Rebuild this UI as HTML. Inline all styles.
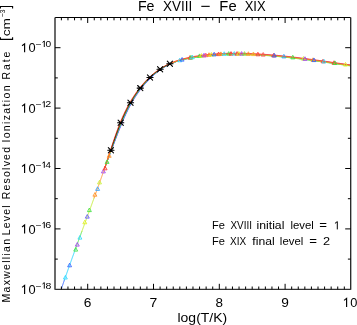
<!DOCTYPE html>
<html><head><meta charset="utf-8"><style>html,body{margin:0;padding:0;background:#fff;width:357px;height:325px;overflow:hidden}svg{display:block;will-change:transform}</style></head><body>
<svg width="357" height="325" viewBox="0 0 357 325">
<rect width="357" height="325" fill="#fff"/>
<defs><clipPath id="c"><rect x="55.5" y="18" width="294.7" height="270.8"/></clipPath></defs>
<g clip-path="url(#c)" fill="none" stroke-width="1" stroke-linejoin="round" stroke-linecap="butt">
<polyline points="60.50,291.39 60.57,291.18 60.64,290.98 60.71,290.77 60.78,290.57 60.85,290.36 60.92,290.16 60.99,289.96 61.06,289.75 61.13,289.55 61.19,289.35 61.26,289.14 61.33,288.94 61.40,288.74 61.47,288.53 61.54,288.33 61.61,288.13 61.68,287.92 61.75,287.72 61.82,287.52 61.89,287.32 61.96,287.11 62.03,286.91 62.10,286.71 62.17,286.51 62.24,286.30 62.31,286.10 62.38,285.90 62.45,285.70 62.52,285.49 62.58,285.29 62.65,285.09 62.72,284.89 62.79,284.69 62.86,284.49 62.93,284.28 63.00,284.08 63.07,283.88 63.14,283.68 63.21,283.48 63.28,283.28 63.35,283.08 63.42,282.88 63.49,282.68 63.56,282.47 63.63,282.27 63.70,282.07 63.77,281.87 63.84,281.67 63.91,281.47 63.97,281.27 64.04,281.07 64.11,280.87 64.18,280.67 64.25,280.47 64.32,280.27 64.39,280.07 64.46,279.87 64.53,279.67 64.60,279.47" stroke="#3060ff"/>
<polyline points="64.30,280.33 64.49,279.78 64.68,279.23 64.87,278.68 65.07,278.13 65.26,277.58 65.45,277.04 65.64,276.49 65.83,275.94 66.02,275.39 66.22,274.85 66.41,274.30 66.60,273.76 66.79,273.21 66.98,272.67 67.17,272.12 67.36,271.58 67.56,271.04 67.75,270.49 67.94,269.95 68.13,269.41 68.32,268.87 68.51,268.33 68.71,267.79 68.90,267.25 69.09,266.71 69.28,266.17 69.47,265.63 69.66,265.09 69.85,264.55 70.05,264.02 70.24,263.48 70.43,262.94 70.62,262.41 70.81,261.87 71.00,261.34 71.19,260.80 71.39,260.27 71.58,259.73 71.77,259.20 71.96,258.66 72.15,258.13 72.34,257.60 72.54,257.06 72.73,256.53 72.92,256.00 73.11,255.47 73.30,254.94 73.49,254.40 73.68,253.87 73.88,253.34 74.07,252.81 74.26,252.28 74.45,251.75 74.64,251.22 74.83,250.69 75.03,250.17 75.22,249.64 75.41,249.11 75.60,248.58" stroke="#30d8ff"/>
<polyline points="75.30,249.41 75.41,249.10 75.52,248.79 75.64,248.48 75.75,248.17 75.86,247.87 75.97,247.56 76.08,247.25 76.19,246.94 76.31,246.63 76.42,246.32 76.53,246.02 76.64,245.71 76.75,245.40 76.87,245.09 76.98,244.79 77.09,244.48 77.20,244.17 77.31,243.86 77.43,243.56 77.54,243.25 77.65,242.94 77.76,242.64 77.87,242.33 77.98,242.02 78.10,241.71 78.21,241.41 78.32,241.10 78.43,240.79 78.54,240.49 78.66,240.18 78.77,239.87 78.88,239.57 78.99,239.26 79.10,238.96 79.22,238.65 79.33,238.34 79.44,238.04 79.55,237.73 79.66,237.42 79.77,237.12 79.89,236.81 80.00,236.51 80.11,236.20 80.22,235.89 80.33,235.59 80.45,235.28 80.56,234.98 80.67,234.67 80.78,234.37 80.89,234.06 81.01,233.75 81.12,233.45 81.23,233.14 81.34,232.84 81.45,232.53 81.56,232.23 81.68,231.92 81.79,231.62 81.90,231.31" stroke="#50e850"/>
<polyline points="81.60,232.13 81.82,231.54 82.03,230.95 82.25,230.37 82.46,229.78 82.68,229.19 82.89,228.60 83.11,228.02 83.32,227.43 83.54,226.84 83.75,226.26 83.97,225.67 84.18,225.08 84.40,224.49 84.61,223.91 84.83,223.32 85.04,222.73 85.26,222.15 85.47,221.56 85.69,220.97 85.91,220.38 86.12,219.80 86.34,219.21 86.55,218.62 86.77,218.04 86.98,217.45 87.20,216.86 87.41,216.27 87.63,215.69 87.84,215.10 88.06,214.51 88.27,213.92 88.49,213.33 88.70,212.74 88.92,212.16 89.13,211.57 89.35,210.98 89.56,210.39 89.78,209.80 89.99,209.21 90.21,208.62 90.43,208.03 90.64,207.44 90.86,206.85 91.07,206.26 91.29,205.67 91.50,205.08 91.72,204.49 91.93,203.90 92.15,203.31 92.36,202.72 92.58,202.13 92.79,201.53 93.01,200.94 93.22,200.35 93.44,199.76 93.65,199.16 93.87,198.57 94.08,197.97 94.30,197.38" stroke="#c8f040"/>
<polyline points="94.00,198.21 94.19,197.69 94.38,197.17 94.56,196.65 94.75,196.13 94.94,195.61 95.13,195.09 95.32,194.57 95.51,194.05 95.69,193.53 95.88,193.00 96.07,192.48 96.26,191.96 96.45,191.44 96.63,190.92 96.82,190.39 97.01,189.87 97.20,189.34 97.39,188.82 97.57,188.30 97.76,187.77 97.95,187.25 98.14,186.72 98.33,186.20 98.52,185.67 98.70,185.14 98.89,184.62 99.08,184.09 99.27,183.56 99.46,183.03 99.64,182.50 99.83,181.97 100.02,181.45 100.21,180.92 100.40,180.39 100.58,179.85 100.77,179.32 100.96,178.79 101.15,178.26 101.34,177.73 101.53,177.20 101.71,176.66 101.90,176.13 102.09,175.59 102.28,175.06 102.47,174.52 102.65,173.99 102.84,173.45 103.03,172.92 103.22,172.38 103.41,171.84 103.59,171.30 103.78,170.76 103.97,170.23 104.16,169.69 104.35,169.15 104.54,168.60 104.72,168.06 104.91,167.52 105.10,166.98" stroke="#ff9a40"/>
<polyline points="104.50,168.71 105.12,166.92 105.74,165.13 106.43,163.33 107.12,161.52 107.81,159.71 108.50,157.89 109.19,156.07 109.88,154.25 110.57,152.43 111.26,150.61 111.96,148.79 112.65,146.98 113.34,145.17 114.01,143.38 114.67,141.60 115.34,139.82 116.01,138.07 116.67,136.33 117.34,134.61 118.00,132.90 118.66,131.22 119.33,129.57 119.99,127.94 120.65,126.33 121.31,124.76 121.93,123.21 122.55,121.70 123.17,120.22 123.79,118.77 124.41,117.36 125.03,115.97 125.65,114.62 126.27,113.29 126.89,111.99 127.51,110.72 128.13,109.48 128.75,108.26 129.37,107.07 129.99,105.91 130.61,104.77 131.23,103.66 131.85,102.57 132.47,101.50 133.09,100.46 133.71,99.44 134.33,98.43 134.95,97.45 135.57,96.50 136.19,95.56 136.82,94.63 137.44,93.73 138.06,92.85 138.68,91.98 139.30,91.13 139.92,90.30 140.54,89.48 141.16,88.67 141.78,87.88 142.40,87.11 143.02,86.34 143.64,85.59 144.26,84.86 144.88,84.14 145.50,83.43 146.12,82.73 146.74,82.05 147.36,81.37 147.98,80.72 148.60,80.07 149.22,79.44 149.84,78.81 150.46,78.20 151.08,77.61 151.70,77.02 152.32,76.44 152.94,75.88 153.56,75.33 154.18,74.79 154.78,74.26 155.38,73.74 155.98,73.23 156.59,72.73 157.19,72.25 157.79,71.77 158.40,71.30 159.00,70.84 159.61,70.40 160.21,69.96 160.82,69.53 161.42,69.11 162.03,68.70 162.64,68.30 163.24,67.91 163.85,67.53 164.46,67.16 165.06,66.79 165.67,66.44 166.28,66.09 166.89,65.76 167.50,65.44 168.11,65.12 168.72,64.82 169.33,64.52 169.94,64.23 170.55,63.94 171.16,63.66 171.77,63.39 172.38,63.13 172.99,62.87 173.60,62.62 174.21,62.38 174.82,62.14 175.44,61.91 176.05,61.69 176.66,61.47 177.27,61.25 177.89,61.05 178.50,60.84 179.11,60.65 179.73,60.46 180.34,60.27 180.95,60.09 181.56,59.91 182.17,59.74 182.78,59.57 183.39,59.41 184.01,59.25 184.62,59.10 185.23,58.95 185.84,58.80 186.45,58.66 187.07,58.52 187.68,58.38 188.29,58.25 188.91,58.12 189.52,57.99 190.13,57.87 190.75,57.75 191.36,57.63 191.97,57.51 192.59,57.40 193.20,57.29 193.82,57.18 194.43,57.07 195.04,56.97 195.66,56.87 196.27,56.77 196.89,56.67 197.50,56.58 198.12,56.49 198.73,56.40 199.35,56.31 199.96,56.22 200.58,56.14 201.20,56.05 201.81,55.96 202.43,55.88 203.04,55.80 203.66,55.71 204.28,55.64 204.89,55.56 205.51,55.48 206.12,55.41 206.74,55.34 207.36,55.27 207.97,55.20 208.59,55.14 209.21,55.08 209.83,55.02 210.44,54.96 211.06,54.90 211.68,54.84 212.30,54.79 212.91,54.74 213.53,54.69 214.15,54.64 214.77,54.59 215.38,54.55 216.00,54.50 216.62,54.46 217.24,54.42 217.86,54.38 218.48,54.35 219.09,54.31 219.71,54.28 220.33,54.25 220.95,54.22 221.57,54.19 222.19,54.16 222.81,54.13 223.42,54.11 224.04,54.08 224.66,54.06 225.28,54.04 225.90,54.02 226.52,54.00 227.14,53.98 227.76,53.97 228.38,53.95 229.00,53.94 229.62,53.93 230.24,53.92 230.86,53.91 231.48,53.90 232.10,53.89 232.72,53.89 233.34,53.88 233.96,53.88 234.58,53.87 235.20,53.87 235.82,53.87 236.44,53.87 237.06,53.87 237.68,53.87 238.30,53.88 238.92,53.88 239.54,53.89 240.16,53.89 240.78,53.90 241.40,53.91 242.02,53.92 242.64,53.93 243.27,53.94 243.89,53.95 244.51,53.96 245.13,53.98 245.75,53.99 246.37,54.01 246.99,54.03 247.61,54.05 248.23,54.07 248.86,54.09 249.48,54.11 250.10,54.13 250.72,54.15 251.34,54.18 251.96,54.20 252.59,54.23 253.21,54.25 253.83,54.28 254.45,54.31 255.07,54.34 255.69,54.37 256.32,54.40 256.94,54.43 257.56,54.46 258.18,54.50 258.80,54.53 259.43,54.57 260.05,54.60 260.67,54.64 261.29,54.68 261.92,54.72 262.54,54.76 263.16,54.80 263.78,54.84 264.41,54.88 265.03,54.92 265.65,54.97 266.27,55.01 266.90,55.06 267.52,55.10 268.14,55.15 268.76,55.19 269.39,55.24 270.01,55.29 270.63,55.34 271.25,55.39 271.88,55.44 272.50,55.49 273.12,55.54 273.75,55.60 274.37,55.65 274.99,55.71 275.62,55.76 276.24,55.82 276.86,55.87 277.49,55.93 278.11,55.99 278.73,56.04 279.36,56.10 279.98,56.16 280.60,56.22 281.23,56.28 281.85,56.34 282.47,56.41 283.10,56.47 283.72,56.53 284.34,56.60 284.97,56.66 285.59,56.72 286.21,56.79 286.84,56.86 287.46,56.92 288.09,56.99 288.71,57.06 289.33,57.12 289.96,57.19 290.58,57.26 291.21,57.33 291.83,57.40 292.45,57.47 293.08,57.54 293.70,57.61 294.33,57.69 294.95,57.76 295.57,57.83 296.20,57.91 296.82,57.98 297.45,58.05 298.07,58.13 298.69,58.20 299.32,58.28 299.94,58.36 300.57,58.43 301.19,58.51 301.82,58.59 302.44,58.66 303.06,58.74 303.69,58.82 304.31,58.90 304.94,58.98 305.56,59.06 306.19,59.14 306.81,59.22 307.44,59.30 308.06,59.38 308.68,59.46 309.31,59.54 309.93,59.62 310.56,59.71 311.18,59.79 311.81,59.87 312.43,59.95 313.06,60.04 313.68,60.12 314.31,60.21 314.93,60.29 315.56,60.37 316.18,60.46 316.80,60.54 317.43,60.63 318.05,60.71 318.67,60.80 319.30,60.89 319.92,60.97 320.54,61.06 321.17,61.14 321.79,61.23 322.41,61.32 323.04,61.41 323.66,61.49 324.28,61.58 324.91,61.67 325.53,61.76 326.15,61.84 326.78,61.93 327.40,62.02 328.02,62.11 328.65,62.20 329.27,62.28 329.89,62.37 330.52,62.46 331.14,62.55 331.76,62.64 332.39,62.73 333.01,62.82 333.63,62.91 334.26,63.00 334.88,63.09 335.50,63.17 336.13,63.26 336.75,63.35 337.37,63.44 338.00,63.53 338.62,63.62 339.24,63.71 339.87,63.80 340.49,63.89 341.11,63.98 341.74,64.07 342.36,64.16 342.99,64.25 343.61,64.34 344.23,64.43 344.86,64.52 345.48,64.61 346.10,64.70 346.73,64.78 347.35,64.87 347.97,64.96 348.60,65.05 349.22,65.14 349.84,65.23 350.47,65.32 351.09,65.41 351.71,65.50 352.34,65.58 352.96,65.67" stroke="#a040f0" stroke-width="0.9"/>
<polyline points="104.50,168.71 105.12,166.92 105.74,165.13 106.41,163.33 107.09,161.52 107.76,159.71 108.44,157.89 109.11,156.07 109.78,154.25 110.46,152.43 111.13,150.61 111.81,148.79 112.48,146.98 113.16,145.17 113.82,143.38 114.47,141.60 115.13,139.82 115.78,138.07 116.44,136.33 117.09,134.61 117.75,132.90 118.40,131.22 119.06,129.57 119.71,127.94 120.36,126.33 121.01,124.76 121.63,123.21 122.25,121.70 122.87,120.22 123.49,118.77 124.11,117.36 124.73,115.97 125.35,114.62 125.97,113.29 126.59,111.99 127.21,110.72 127.83,109.48 128.45,108.26 129.07,107.07 129.69,105.91 130.31,104.77 130.93,103.66 131.55,102.57 132.17,101.50 132.79,100.46 133.41,99.44 134.03,98.43 134.65,97.45 135.27,96.50 135.89,95.56 136.52,94.63 137.14,93.73 137.76,92.85 138.38,91.98 139.00,91.13 139.62,90.30 140.24,89.48 140.86,88.67 141.48,87.88 142.10,87.11 142.72,86.34 143.34,85.59 143.96,84.86 144.58,84.14 145.20,83.43 145.82,82.73 146.44,82.05 147.06,81.37 147.68,80.72 148.30,80.07 148.92,79.44 149.54,78.81 150.16,78.20 150.78,77.61 151.40,77.02 152.02,76.44 152.64,75.88 153.26,75.33 153.88,74.79 154.48,74.26 155.09,73.74 155.70,73.23 156.30,72.73 156.91,72.25 157.52,71.77 158.13,71.30 158.74,70.84 159.34,70.40 159.95,69.96 160.56,69.53 161.17,69.11 161.78,68.70 162.39,68.30 163.00,67.91 163.61,67.53 164.22,67.16 164.83,66.79 165.44,66.44 166.05,66.09 166.66,65.77 167.27,65.44 167.89,65.13 168.50,64.83 169.11,64.53 169.72,64.24 170.33,63.95 170.95,63.68 171.56,63.41 172.17,63.15 172.79,62.89 173.40,62.65 174.01,62.40 174.63,62.17 175.24,61.94 175.86,61.72 176.47,61.50 177.08,61.29 177.70,61.08 178.31,60.88 178.93,60.69 179.54,60.50 180.16,60.31 180.77,60.13 181.38,59.96 182.00,59.79 182.61,59.62 183.22,59.46 183.84,59.30 184.45,59.15 185.07,59.00 185.68,58.86 186.29,58.72 186.91,58.58 187.52,58.44 188.14,58.31 188.75,58.18 189.37,58.06 189.98,57.94 190.60,57.82 191.21,57.70 191.83,57.59 192.44,57.47 193.06,57.37 193.67,57.26 194.29,57.15 194.91,57.05 195.52,56.95 196.14,56.86 196.75,56.76 197.37,56.67 197.99,56.58 198.60,56.49 199.22,56.41 199.84,56.32 200.45,56.24 201.07,56.15 201.69,56.06 202.30,55.98 202.92,55.90 203.54,55.81 204.15,55.74 204.77,55.66 205.39,55.58 206.01,55.51 206.62,55.44 207.24,55.37 207.86,55.30 208.48,55.24 209.09,55.18 209.71,55.12 210.33,55.06 210.95,55.00 211.57,54.94 212.18,54.89 212.80,54.84 213.42,54.79 214.04,54.74 214.66,54.69 215.28,54.65 215.89,54.60 216.51,54.56 217.13,54.52 217.75,54.48 218.37,54.45 218.99,54.41 219.61,54.38 220.23,54.35 220.84,54.32 221.46,54.29 222.08,54.26 222.70,54.23 223.32,54.21 223.94,54.18 224.56,54.16 225.18,54.14 225.80,54.12 226.42,54.10 227.04,54.08 227.66,54.07 228.28,54.05 228.90,54.04 229.52,54.03 230.14,54.02 230.76,54.01 231.38,54.00 232.00,53.99 232.62,53.99 233.24,53.98 233.86,53.98 234.48,53.97 235.10,53.97 235.72,53.97 236.34,53.97 236.96,53.97 237.58,53.97 238.20,53.98 238.82,53.98 239.44,53.99 240.06,53.99 240.68,54.00 241.30,54.01 241.92,54.02 242.54,54.03 243.16,54.04 243.79,54.05 244.41,54.06 245.03,54.08 245.65,54.09 246.27,54.11 246.89,54.13 247.51,54.15 248.13,54.17 248.75,54.19 249.37,54.21 250.00,54.23 250.62,54.25 251.24,54.28 251.86,54.30 252.48,54.33 253.10,54.35 253.72,54.38 254.34,54.41 254.97,54.44 255.59,54.47 256.21,54.50 256.83,54.53 257.45,54.56 258.07,54.60 258.70,54.63 259.32,54.67 259.94,54.70 260.56,54.74 261.18,54.78 261.80,54.82 262.43,54.86 263.05,54.90 263.67,54.94 264.29,54.98 264.91,55.02 265.54,55.07 266.16,55.11 266.78,55.16 267.40,55.20 268.02,55.25 268.65,55.29 269.27,55.34 269.89,55.39 270.51,55.44 271.14,55.49 271.76,55.54 272.38,55.59 273.00,55.64 273.63,55.70 274.25,55.75 274.87,55.81 275.49,55.86 276.12,55.92 276.74,55.97 277.36,56.03 277.98,56.09 278.61,56.14 279.23,56.20 279.85,56.26 280.47,56.32 281.10,56.38 281.72,56.44 282.34,56.51 282.97,56.57 283.59,56.63 284.21,56.70 284.83,56.76 285.46,56.82 286.08,56.89 286.70,56.96 287.33,57.02 287.95,57.09 288.57,57.16 289.19,57.22 289.82,57.29 290.44,57.36 291.06,57.43 291.69,57.50 292.31,57.57 292.93,57.64 293.56,57.71 294.18,57.79 294.80,57.86 295.43,57.93 296.05,58.01 296.67,58.08 297.30,58.15 297.92,58.23 298.54,58.30 299.17,58.38 299.79,58.46 300.41,58.53 301.04,58.61 301.66,58.69 302.28,58.76 302.91,58.84 303.53,58.92 304.15,59.00 304.78,59.08 305.40,59.16 306.02,59.24 306.65,59.32 307.27,59.40 307.89,59.48 308.52,59.56 309.14,59.64 309.76,59.72 310.39,59.81 311.01,59.89 311.64,59.97 312.26,60.05 312.88,60.14 313.51,60.22 314.13,60.31 314.75,60.39 315.38,60.47 316.00,60.56 316.62,60.64 317.25,60.73 317.87,60.81 318.49,60.90 319.11,60.99 319.74,61.07 320.36,61.16 320.98,61.24 321.60,61.33 322.23,61.42 322.85,61.51 323.47,61.59 324.09,61.68 324.72,61.77 325.34,61.86 325.96,61.94 326.59,62.03 327.21,62.12 327.83,62.21 328.45,62.30 329.08,62.38 329.70,62.47 330.32,62.56 330.94,62.65 331.57,62.74 332.19,62.83 332.81,62.92 333.43,63.01 334.06,63.10 334.68,63.19 335.30,63.27 335.93,63.36 336.55,63.45 337.17,63.54 337.79,63.63 338.42,63.72 339.04,63.81 339.66,63.90 340.28,63.99 340.91,64.08 341.53,64.17 342.15,64.26 342.78,64.35 343.40,64.44 344.02,64.53 344.64,64.62 345.27,64.71 345.89,64.80 346.51,64.88 347.13,64.97 347.76,65.06 348.38,65.15 349.00,65.24 349.62,65.33 350.25,65.42 350.87,65.51 351.49,65.60 352.12,65.68 352.74,65.77" stroke="#3060ff" stroke-width="0.9"/>
<polyline points="104.50,168.71 105.12,166.92 105.74,165.13 106.40,163.33 107.05,161.52 107.71,159.71 108.37,157.89 109.03,156.07 109.69,154.25 110.35,152.43 111.01,150.61 111.66,148.79 112.32,146.98 112.98,145.17 113.63,143.38 114.27,141.60 114.92,139.82 115.56,138.07 116.21,136.33 116.85,134.61 117.50,132.90 118.14,131.22 118.78,129.57 119.43,127.94 120.07,126.33 120.71,124.76 121.33,123.21 121.95,121.70 122.57,120.22 123.19,118.77 123.81,117.36 124.43,115.97 125.05,114.62 125.67,113.29 126.29,111.99 126.91,110.72 127.53,109.48 128.15,108.26 128.77,107.07 129.39,105.91 130.01,104.77 130.63,103.66 131.25,102.57 131.87,101.50 132.49,100.46 133.11,99.44 133.73,98.43 134.35,97.45 134.97,96.50 135.59,95.56 136.22,94.63 136.84,93.73 137.46,92.85 138.08,91.98 138.70,91.13 139.32,90.30 139.94,89.48 140.56,88.67 141.18,87.88 141.80,87.11 142.42,86.34 143.04,85.59 143.66,84.86 144.28,84.14 144.90,83.43 145.52,82.73 146.14,82.05 146.76,81.37 147.38,80.72 148.00,80.07 148.62,79.44 149.24,78.81 149.86,78.20 150.48,77.61 151.10,77.02 151.72,76.44 152.34,75.88 152.96,75.33 153.58,74.79 154.19,74.26 154.80,73.74 155.41,73.23 156.02,72.73 156.63,72.25 157.24,71.77 157.86,71.30 158.47,70.84 159.08,70.40 159.69,69.96 160.30,69.53 160.92,69.11 161.53,68.70 162.14,68.30 162.76,67.91 163.37,67.53 163.98,67.16 164.60,66.79 165.21,66.44 165.82,66.10 166.44,65.77 167.05,65.45 167.67,65.14 168.28,64.84 168.89,64.55 169.51,64.26 170.12,63.98 170.74,63.71 171.35,63.44 171.97,63.19 172.58,62.93 173.20,62.69 173.82,62.45 174.43,62.22 175.05,61.99 175.66,61.77 176.28,61.56 176.90,61.35 177.51,61.15 178.13,60.95 178.74,60.76 179.36,60.58 179.98,60.39 180.59,60.22 181.21,60.05 181.82,59.88 182.44,59.72 183.05,59.56 183.67,59.41 184.29,59.26 184.90,59.11 185.52,58.97 186.13,58.83 186.75,58.70 187.37,58.57 187.98,58.44 188.60,58.32 189.22,58.20 189.83,58.08 190.45,57.96 191.07,57.85 191.68,57.74 192.30,57.63 192.92,57.52 193.53,57.42 194.15,57.32 194.77,57.22 195.38,57.12 196.00,57.03 196.62,56.94 197.24,56.85 197.85,56.76 198.47,56.68 199.09,56.60 199.71,56.52 200.32,56.44 200.94,56.35 201.56,56.26 202.18,56.18 202.80,56.10 203.41,56.01 204.03,55.94 204.65,55.86 205.27,55.78 205.89,55.71 206.50,55.64 207.12,55.57 207.74,55.50 208.36,55.44 208.98,55.38 209.60,55.32 210.22,55.26 210.83,55.20 211.45,55.14 212.07,55.09 212.69,55.04 213.31,54.99 213.93,54.94 214.55,54.89 215.17,54.85 215.79,54.80 216.41,54.76 217.02,54.72 217.64,54.68 218.26,54.65 218.88,54.61 219.50,54.58 220.12,54.55 220.74,54.52 221.36,54.49 221.98,54.46 222.60,54.43 223.22,54.41 223.84,54.38 224.46,54.36 225.08,54.34 225.70,54.32 226.32,54.30 226.94,54.28 227.56,54.27 228.18,54.25 228.80,54.24 229.42,54.23 230.04,54.22 230.66,54.21 231.28,54.20 231.90,54.19 232.52,54.19 233.14,54.18 233.76,54.18 234.38,54.17 235.00,54.17 235.62,54.17 236.24,54.17 236.86,54.17 237.48,54.17 238.10,54.18 238.72,54.18 239.34,54.19 239.96,54.19 240.58,54.20 241.20,54.21 241.82,54.22 242.44,54.23 243.06,54.24 243.68,54.25 244.30,54.26 244.93,54.28 245.55,54.29 246.17,54.31 246.79,54.33 247.41,54.35 248.03,54.37 248.65,54.39 249.27,54.41 249.89,54.43 250.51,54.45 251.13,54.48 251.75,54.50 252.38,54.53 253.00,54.55 253.62,54.58 254.24,54.61 254.86,54.64 255.48,54.67 256.10,54.70 256.72,54.73 257.34,54.76 257.97,54.80 258.59,54.83 259.21,54.87 259.83,54.90 260.45,54.94 261.07,54.98 261.69,55.02 262.32,55.06 262.94,55.10 263.56,55.14 264.18,55.18 264.80,55.22 265.42,55.27 266.04,55.31 266.67,55.36 267.29,55.40 267.91,55.45 268.53,55.49 269.15,55.54 269.77,55.59 270.40,55.64 271.02,55.69 271.64,55.74 272.26,55.79 272.88,55.84 273.50,55.90 274.13,55.95 274.75,56.01 275.37,56.06 275.99,56.12 276.61,56.17 277.24,56.23 277.86,56.29 278.48,56.34 279.10,56.40 279.72,56.46 280.35,56.52 280.97,56.58 281.59,56.64 282.21,56.71 282.83,56.77 283.46,56.83 284.08,56.90 284.70,56.96 285.32,57.02 285.94,57.09 286.57,57.16 287.19,57.22 287.81,57.29 288.43,57.36 289.05,57.42 289.68,57.49 290.30,57.56 290.92,57.63 291.54,57.70 292.17,57.77 292.79,57.84 293.41,57.91 294.03,57.99 294.66,58.06 295.28,58.13 295.90,58.21 296.52,58.28 297.14,58.35 297.77,58.43 298.39,58.50 299.01,58.58 299.63,58.66 300.26,58.73 300.88,58.81 301.50,58.89 302.12,58.96 302.75,59.04 303.37,59.12 303.99,59.20 304.61,59.28 305.24,59.36 305.86,59.44 306.48,59.52 307.10,59.60 307.73,59.68 308.35,59.76 308.97,59.84 309.59,59.92 310.22,60.01 310.84,60.09 311.46,60.17 312.09,60.25 312.71,60.34 313.33,60.42 313.95,60.51 314.58,60.59 315.20,60.67 315.82,60.76 316.44,60.84 317.07,60.93 317.69,61.01 318.31,61.10 318.93,61.19 319.55,61.27 320.17,61.36 320.80,61.44 321.42,61.53 322.04,61.62 322.66,61.71 323.28,61.79 323.91,61.88 324.53,61.97 325.15,62.06 325.77,62.14 326.39,62.23 327.02,62.32 327.64,62.41 328.26,62.50 328.88,62.58 329.50,62.67 330.13,62.76 330.75,62.85 331.37,62.94 331.99,63.03 332.61,63.12 333.24,63.21 333.86,63.30 334.48,63.39 335.10,63.47 335.72,63.56 336.35,63.65 336.97,63.74 337.59,63.83 338.21,63.92 338.83,64.01 339.46,64.10 340.08,64.19 340.70,64.28 341.32,64.37 341.94,64.46 342.57,64.55 343.19,64.64 343.81,64.73 344.43,64.82 345.05,64.91 345.68,65.00 346.30,65.08 346.92,65.17 347.54,65.26 348.16,65.35 348.78,65.44 349.41,65.53 350.03,65.62 350.65,65.71 351.27,65.80 351.89,65.88 352.52,65.97" stroke="#30d8ff" stroke-width="0.9"/>
<polyline points="104.50,168.71 105.12,166.92 105.74,165.13 106.38,163.33 107.02,161.52 107.66,159.71 108.30,157.89 108.94,156.07 109.58,154.25 110.21,152.43 110.85,150.61 111.49,148.79 112.13,146.98 112.77,145.17 113.41,143.38 114.04,141.60 114.67,139.82 115.30,138.07 115.94,136.33 116.57,134.61 117.20,132.90 117.83,131.22 118.46,129.57 119.10,127.94 119.73,126.33 120.36,124.76 120.98,123.21 121.60,121.70 122.22,120.22 122.84,118.77 123.46,117.36 124.08,115.97 124.70,114.62 125.32,113.29 125.94,111.99 126.56,110.72 127.18,109.48 127.80,108.26 128.42,107.07 129.04,105.91 129.66,104.77 130.28,103.66 130.90,102.57 131.52,101.50 132.14,100.46 132.76,99.44 133.38,98.43 134.00,97.45 134.62,96.50 135.24,95.56 135.87,94.63 136.49,93.73 137.11,92.85 137.73,91.98 138.35,91.13 138.97,90.30 139.59,89.48 140.21,88.67 140.83,87.88 141.45,87.11 142.07,86.34 142.69,85.59 143.31,84.86 143.93,84.14 144.55,83.43 145.17,82.73 145.79,82.05 146.41,81.37 147.03,80.72 147.65,80.07 148.27,79.44 148.89,78.81 149.51,78.20 150.13,77.61 150.75,77.02 151.37,76.44 151.99,75.88 152.61,75.33 153.23,74.79 153.85,74.26 154.46,73.74 155.08,73.23 155.69,72.73 156.31,72.25 156.93,71.77 157.54,71.30 158.16,70.84 158.77,70.40 159.39,69.96 160.01,69.53 160.62,69.11 161.24,68.70 161.86,68.30 162.47,67.91 163.09,67.53 163.71,67.16 164.32,66.79 164.94,66.44 165.56,66.10 166.17,65.78 166.79,65.46 167.41,65.16 168.03,64.86 168.64,64.57 169.26,64.28 169.88,64.01 170.50,63.74 171.11,63.48 171.73,63.22 172.35,62.97 172.97,62.73 173.58,62.50 174.20,62.27 174.82,62.05 175.44,61.83 176.06,61.62 176.68,61.42 177.29,61.22 177.91,61.03 178.53,60.84 179.15,60.66 179.77,60.48 180.38,60.31 181.00,60.14 181.62,59.97 182.24,59.82 182.86,59.66 183.47,59.51 184.09,59.37 184.71,59.22 185.33,59.09 185.95,58.95 186.56,58.82 187.18,58.69 187.80,58.57 188.42,58.45 189.04,58.33 189.66,58.22 190.27,58.10 190.89,57.99 191.51,57.89 192.13,57.78 192.75,57.68 193.37,57.58 193.99,57.48 194.61,57.39 195.22,57.30 195.84,57.21 196.46,57.12 197.08,57.03 197.70,56.95 198.32,56.87 198.94,56.79 199.56,56.72 200.18,56.64 200.79,56.55 201.41,56.46 202.03,56.38 202.65,56.30 203.27,56.21 203.89,56.14 204.51,56.06 205.13,55.98 205.75,55.91 206.37,55.84 206.99,55.77 207.61,55.70 208.23,55.64 208.84,55.58 209.46,55.52 210.08,55.46 210.70,55.40 211.32,55.34 211.94,55.29 212.56,55.24 213.18,55.19 213.80,55.14 214.42,55.09 215.04,55.05 215.66,55.00 216.28,54.96 216.90,54.92 217.52,54.88 218.14,54.85 218.76,54.81 219.38,54.78 220.00,54.75 220.62,54.72 221.24,54.69 221.86,54.66 222.48,54.63 223.10,54.61 223.72,54.58 224.34,54.56 224.96,54.54 225.58,54.52 226.20,54.50 226.82,54.48 227.44,54.47 228.06,54.45 228.68,54.44 229.30,54.43 229.92,54.42 230.54,54.41 231.16,54.40 231.78,54.39 232.40,54.39 233.02,54.38 233.64,54.38 234.26,54.37 234.88,54.37 235.50,54.37 236.12,54.37 236.74,54.37 237.36,54.37 237.98,54.38 238.60,54.38 239.22,54.39 239.84,54.39 240.46,54.40 241.08,54.41 241.70,54.42 242.32,54.43 242.95,54.44 243.57,54.45 244.19,54.46 244.81,54.48 245.43,54.49 246.05,54.51 246.67,54.53 247.29,54.55 247.91,54.57 248.53,54.59 249.15,54.61 249.77,54.63 250.39,54.65 251.01,54.68 251.63,54.70 252.25,54.73 252.87,54.75 253.50,54.78 254.12,54.81 254.74,54.84 255.36,54.87 255.98,54.90 256.60,54.93 257.22,54.96 257.84,55.00 258.46,55.03 259.08,55.07 259.70,55.10 260.32,55.14 260.94,55.18 261.57,55.22 262.19,55.26 262.81,55.30 263.43,55.34 264.05,55.38 264.67,55.42 265.29,55.47 265.91,55.51 266.53,55.56 267.15,55.60 267.77,55.65 268.40,55.69 269.02,55.74 269.64,55.79 270.26,55.84 270.88,55.89 271.50,55.94 272.12,55.99 272.74,56.04 273.36,56.10 273.98,56.15 274.61,56.21 275.23,56.26 275.85,56.32 276.47,56.37 277.09,56.43 277.71,56.49 278.33,56.54 278.95,56.60 279.57,56.66 280.20,56.72 280.82,56.78 281.44,56.84 282.06,56.91 282.68,56.97 283.30,57.03 283.92,57.10 284.54,57.16 285.16,57.22 285.79,57.29 286.41,57.36 287.03,57.42 287.65,57.49 288.27,57.56 288.89,57.62 289.51,57.69 290.13,57.76 290.76,57.83 291.38,57.90 292.00,57.97 292.62,58.04 293.24,58.11 293.86,58.19 294.48,58.26 295.10,58.33 295.73,58.41 296.35,58.48 296.97,58.55 297.59,58.63 298.21,58.70 298.83,58.78 299.45,58.86 300.08,58.93 300.70,59.01 301.32,59.09 301.94,59.16 302.56,59.24 303.18,59.32 303.80,59.40 304.43,59.48 305.05,59.56 305.67,59.64 306.29,59.72 306.91,59.80 307.53,59.88 308.15,59.96 308.78,60.04 309.40,60.12 310.02,60.21 310.64,60.29 311.26,60.37 311.88,60.45 312.50,60.54 313.13,60.62 313.75,60.71 314.37,60.79 314.99,60.87 315.61,60.96 316.23,61.04 316.85,61.13 317.48,61.21 318.10,61.30 318.72,61.39 319.34,61.47 319.96,61.56 320.58,61.64 321.20,61.73 321.82,61.82 322.44,61.91 323.07,61.99 323.69,62.08 324.31,62.17 324.93,62.26 325.55,62.34 326.17,62.43 326.79,62.52 327.41,62.61 328.03,62.70 328.66,62.78 329.28,62.87 329.90,62.96 330.52,63.05 331.14,63.14 331.76,63.23 332.38,63.32 333.00,63.41 333.62,63.50 334.25,63.59 334.87,63.67 335.49,63.76 336.11,63.85 336.73,63.94 337.35,64.03 337.97,64.12 338.59,64.21 339.21,64.30 339.84,64.39 340.46,64.48 341.08,64.57 341.70,64.66 342.32,64.75 342.94,64.84 343.56,64.93 344.18,65.02 344.80,65.11 345.43,65.20 346.05,65.28 346.67,65.37 347.29,65.46 347.91,65.55 348.53,65.64 349.15,65.73 349.77,65.82 350.39,65.91 351.02,66.00 351.64,66.08 352.26,66.17" stroke="#40e040" stroke-width="0.9"/>
<polyline points="104.50,168.71 105.12,166.92 105.74,165.13 106.36,163.33 106.98,161.52 107.60,159.71 108.22,157.89 108.84,156.07 109.46,154.25 110.08,152.43 110.70,150.61 111.32,148.79 111.94,146.98 112.56,145.17 113.18,143.38 113.80,141.60 114.42,139.82 115.05,138.07 115.67,136.33 116.29,134.61 116.91,132.90 117.53,131.22 118.15,129.57 118.77,127.94 119.39,126.33 120.01,124.76 120.63,123.21 121.25,121.70 121.87,120.22 122.49,118.77 123.11,117.36 123.73,115.97 124.35,114.62 124.97,113.29 125.59,111.99 126.21,110.72 126.83,109.48 127.45,108.26 128.07,107.07 128.69,105.91 129.31,104.77 129.93,103.66 130.55,102.57 131.17,101.50 131.79,100.46 132.41,99.44 133.03,98.43 133.65,97.45 134.27,96.50 134.89,95.56 135.52,94.63 136.14,93.73 136.76,92.85 137.38,91.98 138.00,91.13 138.62,90.30 139.24,89.48 139.86,88.67 140.48,87.88 141.10,87.11 141.72,86.34 142.34,85.59 142.96,84.86 143.58,84.14 144.20,83.43 144.82,82.73 145.44,82.05 146.06,81.37 146.68,80.72 147.30,80.07 147.92,79.44 148.54,78.81 149.16,78.20 149.78,77.61 150.40,77.02 151.02,76.44 151.64,75.88 152.26,75.33 152.88,74.79 153.50,74.26 154.12,73.74 154.74,73.23 155.36,72.73 155.98,72.25 156.61,71.77 157.23,71.30 157.85,70.84 158.47,70.40 159.09,69.96 159.71,69.53 160.33,69.11 160.95,68.70 161.57,68.30 162.19,67.91 162.81,67.53 163.43,67.16 164.05,66.79 164.67,66.44 165.29,66.10 165.91,65.77 166.53,65.45 167.15,65.14 167.77,64.83 168.39,64.54 169.01,64.25 169.63,63.97 170.25,63.69 170.87,63.43 171.49,63.17 172.11,62.91 172.73,62.67 173.35,62.43 173.97,62.19 174.59,61.97 175.21,61.74 175.83,61.53 176.45,61.32 177.08,61.12 177.70,60.92 178.32,60.72 178.94,60.54 179.56,60.35 180.18,60.18 180.80,60.00 181.42,59.83 182.04,59.67 182.66,59.51 183.28,59.36 183.90,59.20 184.52,59.06 185.14,58.91 185.76,58.77 186.38,58.64 187.00,58.51 187.62,58.38 188.24,58.25 188.86,58.13 189.48,58.01 190.10,57.89 190.72,57.77 191.34,57.66 191.96,57.55 192.58,57.44 193.20,57.34 193.82,57.24 194.44,57.14 195.06,57.04 195.68,56.94 196.30,56.85 196.92,56.76 197.55,56.67 198.17,56.59 198.79,56.50 199.41,56.42 200.03,56.34 200.65,56.25 201.27,56.16 201.89,56.08 202.51,56.00 203.13,55.91 203.75,55.84 204.37,55.76 204.99,55.68 205.61,55.61 206.23,55.54 206.85,55.47 207.47,55.40 208.09,55.34 208.71,55.28 209.33,55.22 209.95,55.16 210.57,55.10 211.19,55.04 211.81,54.99 212.43,54.94 213.05,54.89 213.67,54.84 214.29,54.79 214.91,54.75 215.53,54.70 216.15,54.66 216.77,54.62 217.39,54.58 218.02,54.55 218.64,54.51 219.26,54.48 219.88,54.45 220.50,54.42 221.12,54.39 221.74,54.36 222.36,54.33 222.98,54.31 223.60,54.28 224.22,54.26 224.84,54.24 225.46,54.22 226.08,54.20 226.70,54.18 227.32,54.17 227.94,54.15 228.56,54.14 229.18,54.13 229.80,54.12 230.42,54.11 231.04,54.10 231.66,54.09 232.28,54.09 232.90,54.08 233.52,54.08 234.14,54.07 234.76,54.07 235.38,54.07 236.00,54.07 236.62,54.07 237.24,54.07 237.86,54.08 238.48,54.08 239.11,54.09 239.73,54.09 240.35,54.10 240.97,54.11 241.59,54.12 242.21,54.13 242.83,54.14 243.45,54.15 244.07,54.16 244.69,54.18 245.31,54.19 245.93,54.21 246.55,54.23 247.17,54.25 247.79,54.27 248.41,54.29 249.03,54.31 249.65,54.33 250.27,54.35 250.89,54.38 251.51,54.40 252.13,54.43 252.75,54.45 253.37,54.48 253.99,54.51 254.61,54.54 255.23,54.57 255.85,54.60 256.47,54.63 257.09,54.66 257.71,54.70 258.33,54.73 258.95,54.77 259.58,54.80 260.20,54.84 260.82,54.88 261.44,54.92 262.06,54.96 262.68,55.00 263.30,55.04 263.92,55.08 264.54,55.12 265.16,55.17 265.78,55.21 266.40,55.26 267.02,55.30 267.64,55.35 268.26,55.39 268.88,55.44 269.50,55.49 270.12,55.54 270.74,55.59 271.36,55.64 271.98,55.69 272.60,55.74 273.22,55.80 273.84,55.85 274.46,55.91 275.08,55.96 275.70,56.02 276.32,56.07 276.94,56.13 277.56,56.19 278.18,56.24 278.80,56.30 279.42,56.36 280.05,56.42 280.67,56.48 281.29,56.54 281.91,56.61 282.53,56.67 283.15,56.73 283.77,56.80 284.39,56.86 285.01,56.92 285.63,56.99 286.25,57.06 286.87,57.12 287.49,57.19 288.11,57.26 288.73,57.32 289.35,57.39 289.97,57.46 290.59,57.53 291.21,57.60 291.83,57.67 292.45,57.74 293.07,57.81 293.69,57.89 294.31,57.96 294.93,58.03 295.55,58.11 296.17,58.18 296.79,58.25 297.41,58.33 298.03,58.40 298.65,58.48 299.27,58.56 299.89,58.63 300.52,58.71 301.14,58.79 301.76,58.86 302.38,58.94 303.00,59.02 303.62,59.10 304.24,59.18 304.86,59.26 305.48,59.34 306.10,59.42 306.72,59.50 307.34,59.58 307.96,59.66 308.58,59.74 309.20,59.82 309.82,59.91 310.44,59.99 311.06,60.07 311.68,60.15 312.30,60.24 312.92,60.32 313.54,60.41 314.16,60.49 314.78,60.57 315.40,60.66 316.02,60.74 316.64,60.83 317.26,60.91 317.88,61.00 318.50,61.09 319.12,61.17 319.74,61.26 320.36,61.34 320.98,61.43 321.61,61.52 322.23,61.61 322.85,61.69 323.47,61.78 324.09,61.87 324.71,61.96 325.33,62.04 325.95,62.13 326.57,62.22 327.19,62.31 327.81,62.40 328.43,62.48 329.05,62.57 329.67,62.66 330.29,62.75 330.91,62.84 331.53,62.93 332.15,63.02 332.77,63.11 333.39,63.20 334.01,63.29 334.63,63.37 335.25,63.46 335.87,63.55 336.49,63.64 337.11,63.73 337.73,63.82 338.35,63.91 338.97,64.00 339.59,64.09 340.21,64.18 340.83,64.27 341.45,64.36 342.08,64.45 342.70,64.54 343.32,64.63 343.94,64.72 344.56,64.81 345.18,64.90 345.80,64.98 346.42,65.07 347.04,65.16 347.66,65.25 348.28,65.34 348.90,65.43 349.52,65.52 350.14,65.61 350.76,65.70 351.38,65.78 352.00,65.87" stroke="#e8f020" stroke-width="0.9"/>
<polyline points="104.50,168.71 105.12,166.92 105.74,165.13 106.34,163.33 106.94,161.52 107.55,159.71 108.15,157.89 108.75,156.07 109.35,154.25 109.95,152.43 110.55,150.61 111.15,148.79 111.75,146.98 112.36,145.17 112.96,143.38 113.57,141.60 114.18,139.82 114.79,138.07 115.39,136.33 116.00,134.61 116.61,132.90 117.22,131.22 117.83,129.57 118.44,127.94 119.05,126.33 119.66,124.76 120.28,123.21 120.90,121.70 121.52,120.22 122.14,118.77 122.76,117.36 123.38,115.97 124.00,114.62 124.62,113.29 125.24,111.99 125.86,110.72 126.48,109.48 127.10,108.26 127.72,107.07 128.34,105.91 128.96,104.77 129.58,103.66 130.20,102.57 130.82,101.50 131.44,100.46 132.06,99.44 132.68,98.43 133.30,97.45 133.92,96.50 134.54,95.56 135.17,94.63 135.79,93.73 136.41,92.85 137.03,91.98 137.65,91.13 138.27,90.30 138.89,89.48 139.51,88.67 140.13,87.88 140.75,87.11 141.37,86.34 141.99,85.59 142.61,84.86 143.23,84.14 143.85,83.43 144.47,82.73 145.09,82.05 145.71,81.37 146.33,80.72 146.95,80.07 147.57,79.44 148.19,78.81 148.81,78.20 149.43,77.61 150.05,77.02 150.67,76.44 151.29,75.88 151.91,75.33 152.54,74.79 153.16,74.26 153.79,73.74 154.41,73.23 155.04,72.73 155.66,72.25 156.29,71.77 156.91,71.30 157.53,70.84 158.16,70.40 158.78,69.96 159.41,69.53 160.03,69.11 160.66,68.70 161.28,68.30 161.90,67.91 162.53,67.53 163.15,67.16 163.78,66.79 164.40,66.44 165.02,66.09 165.65,65.76 166.27,65.43 166.89,65.12 167.52,64.81 168.14,64.50 168.76,64.21 169.39,63.92 170.01,63.64 170.63,63.37 171.25,63.10 171.88,62.84 172.50,62.59 173.12,62.34 173.74,62.10 174.37,61.87 174.99,61.64 175.61,61.42 176.23,61.20 176.86,60.99 177.48,60.79 178.10,60.59 178.72,60.40 179.35,60.21 179.97,60.02 180.59,59.84 181.21,59.67 181.84,59.50 182.46,59.33 183.08,59.17 183.70,59.02 184.33,58.86 184.95,58.71 185.57,58.57 186.19,58.42 186.82,58.29 187.44,58.15 188.06,58.02 188.68,57.89 189.31,57.76 189.93,57.64 190.55,57.52 191.17,57.40 191.79,57.28 192.42,57.17 193.04,57.06 193.66,56.95 194.28,56.84 194.90,56.74 195.53,56.64 196.15,56.54 196.77,56.44 197.39,56.35 198.01,56.25 198.63,56.16 199.26,56.08 199.88,55.99 200.50,55.90 201.12,55.81 201.74,55.73 202.36,55.65 202.98,55.56 203.61,55.49 204.23,55.41 204.85,55.33 205.47,55.26 206.09,55.19 206.71,55.12 207.33,55.05 207.96,54.99 208.58,54.93 209.20,54.87 209.82,54.81 210.44,54.75 211.06,54.69 211.68,54.64 212.30,54.59 212.92,54.54 213.54,54.49 214.17,54.44 214.79,54.40 215.41,54.35 216.03,54.31 216.65,54.27 217.27,54.23 217.89,54.20 218.51,54.16 219.13,54.13 219.75,54.10 220.37,54.07 220.99,54.04 221.62,54.01 222.24,53.98 222.86,53.96 223.48,53.93 224.10,53.91 224.72,53.89 225.34,53.87 225.96,53.85 226.58,53.83 227.20,53.82 227.82,53.80 228.44,53.79 229.06,53.78 229.68,53.77 230.30,53.76 230.92,53.75 231.54,53.74 232.16,53.74 232.78,53.73 233.41,53.73 234.03,53.72 234.65,53.72 235.27,53.72 235.89,53.72 236.51,53.72 237.13,53.72 237.75,53.73 238.37,53.73 238.99,53.74 239.61,53.74 240.23,53.75 240.85,53.76 241.47,53.77 242.09,53.78 242.71,53.79 243.33,53.80 243.95,53.81 244.57,53.83 245.19,53.84 245.81,53.86 246.43,53.88 247.05,53.90 247.67,53.92 248.29,53.94 248.91,53.96 249.53,53.98 250.15,54.00 250.77,54.03 251.39,54.05 252.01,54.08 252.63,54.10 253.25,54.13 253.87,54.16 254.49,54.19 255.11,54.22 255.73,54.25 256.35,54.28 256.97,54.31 257.59,54.35 258.21,54.38 258.83,54.42 259.45,54.45 260.07,54.49 260.69,54.53 261.31,54.57 261.93,54.61 262.55,54.65 263.17,54.69 263.79,54.73 264.41,54.77 265.03,54.82 265.65,54.86 266.26,54.91 266.88,54.95 267.50,55.00 268.12,55.04 268.74,55.09 269.36,55.14 269.98,55.19 270.60,55.24 271.22,55.29 271.84,55.34 272.46,55.39 273.08,55.45 273.70,55.50 274.32,55.56 274.94,55.61 275.56,55.67 276.18,55.72 276.80,55.78 277.42,55.84 278.04,55.89 278.66,55.95 279.28,56.01 279.89,56.07 280.51,56.13 281.13,56.19 281.75,56.26 282.37,56.32 282.99,56.38 283.61,56.45 284.23,56.51 284.85,56.57 285.47,56.64 286.09,56.71 286.71,56.77 287.33,56.84 287.95,56.91 288.57,56.97 289.19,57.04 289.81,57.11 290.42,57.18 291.04,57.25 291.66,57.32 292.28,57.39 292.90,57.46 293.52,57.54 294.14,57.61 294.76,57.68 295.38,57.76 296.00,57.83 296.62,57.90 297.24,57.98 297.86,58.05 298.48,58.13 299.09,58.21 299.71,58.28 300.33,58.36 300.95,58.44 301.57,58.51 302.19,58.59 302.81,58.67 303.43,58.75 304.05,58.83 304.67,58.91 305.29,58.99 305.91,59.07 306.52,59.15 307.14,59.23 307.76,59.31 308.38,59.39 309.00,59.47 309.62,59.56 310.24,59.64 310.86,59.72 311.48,59.80 312.10,59.89 312.72,59.97 313.34,60.06 313.95,60.14 314.57,60.22 315.19,60.31 315.81,60.39 316.43,60.48 317.05,60.56 317.67,60.65 318.29,60.74 318.91,60.82 319.53,60.91 320.15,60.99 320.77,61.08 321.39,61.17 322.01,61.26 322.63,61.34 323.25,61.43 323.87,61.52 324.49,61.61 325.10,61.69 325.72,61.78 326.34,61.87 326.96,61.96 327.58,62.05 328.20,62.13 328.82,62.22 329.44,62.31 330.06,62.40 330.68,62.49 331.30,62.58 331.92,62.67 332.54,62.76 333.16,62.85 333.78,62.94 334.40,63.02 335.02,63.11 335.64,63.20 336.26,63.29 336.87,63.38 337.49,63.47 338.11,63.56 338.73,63.65 339.35,63.74 339.97,63.83 340.59,63.92 341.21,64.01 341.83,64.10 342.45,64.19 343.07,64.28 343.69,64.37 344.31,64.46 344.93,64.55 345.55,64.63 346.17,64.72 346.79,64.81 347.41,64.90 348.02,64.99 348.64,65.08 349.26,65.17 349.88,65.26 350.50,65.35 351.12,65.43 351.74,65.52" stroke="#ff9020" stroke-width="0.9"/>
<polyline points="104.50,168.71 105.12,166.92 105.74,165.13 106.33,163.33 106.91,161.52 107.49,159.71 108.07,157.89 108.65,156.07 109.24,154.25 109.82,152.43 110.40,150.61 110.98,148.79 111.57,146.98 112.15,145.17 112.74,143.38 113.34,141.60 113.93,139.82 114.53,138.07 115.12,136.33 115.72,134.61 116.32,132.90 116.91,131.22 117.51,129.57 118.11,127.94 118.71,126.33 119.31,124.76 119.93,123.21 120.55,121.70 121.17,120.22 121.79,118.77 122.41,117.36 123.03,115.97 123.65,114.62 124.27,113.29 124.89,111.99 125.51,110.72 126.13,109.48 126.75,108.26 127.37,107.07 127.99,105.91 128.61,104.77 129.23,103.66 129.85,102.57 130.47,101.50 131.09,100.46 131.71,99.44 132.33,98.43 132.95,97.45 133.57,96.50 134.19,95.56 134.82,94.63 135.44,93.73 136.06,92.85 136.68,91.98 137.30,91.13 137.92,90.30 138.54,89.48 139.16,88.67 139.78,87.88 140.40,87.11 141.02,86.34 141.64,85.59 142.26,84.86 142.88,84.14 143.50,83.43 144.12,82.73 144.74,82.05 145.36,81.37 145.98,80.72 146.60,80.07 147.22,79.44 147.84,78.81 148.46,78.20 149.08,77.61 149.70,77.02 150.32,76.44 150.94,75.88 151.56,75.33 152.19,74.79 152.82,74.26 153.45,73.74 154.08,73.23 154.71,72.73 155.34,72.25 155.97,71.77 156.59,71.30 157.22,70.84 157.85,70.40 158.48,69.96 159.11,69.53 159.74,69.11 160.36,68.70 160.99,68.30 161.62,67.91 162.25,67.53 162.87,67.16 163.50,66.79 164.13,66.44 164.76,66.09 165.38,65.75 166.01,65.41 166.64,65.09 167.26,64.77 167.89,64.46 168.51,64.16 169.14,63.86 169.76,63.57 170.39,63.29 171.02,63.02 171.64,62.75 172.27,62.49 172.89,62.24 173.52,61.99 174.14,61.75 174.77,61.51 175.39,61.28 176.01,61.06 176.64,60.84 177.26,60.63 177.89,60.42 178.51,60.22 179.14,60.02 179.76,59.83 180.39,59.64 181.01,59.46 181.64,59.28 182.26,59.11 182.89,58.94 183.51,58.77 184.14,58.61 184.76,58.45 185.39,58.30 186.01,58.15 186.63,58.00 187.26,57.86 187.88,57.72 188.51,57.58 189.13,57.45 189.75,57.32 190.38,57.19 191.00,57.06 191.63,56.94 192.25,56.81 192.87,56.69 193.50,56.58 194.12,56.46 194.74,56.35 195.37,56.24 195.99,56.14 196.61,56.03 197.24,55.93 197.86,55.83 198.48,55.73 199.11,55.63 199.73,55.54 200.35,55.45 200.97,55.36 201.60,55.28 202.22,55.20 202.84,55.11 203.46,55.04 204.09,54.96 204.71,54.88 205.33,54.81 205.95,54.74 206.58,54.67 207.20,54.60 207.82,54.54 208.44,54.48 209.06,54.42 209.69,54.36 210.31,54.30 210.93,54.24 211.55,54.19 212.17,54.14 212.80,54.09 213.42,54.04 214.04,53.99 214.66,53.95 215.28,53.90 215.90,53.86 216.52,53.82 217.15,53.78 217.77,53.75 218.39,53.71 219.01,53.68 219.63,53.65 220.25,53.62 220.87,53.59 221.49,53.56 222.12,53.53 222.74,53.51 223.36,53.48 223.98,53.46 224.60,53.44 225.22,53.42 225.84,53.40 226.46,53.38 227.08,53.37 227.70,53.35 228.32,53.34 228.94,53.33 229.57,53.32 230.19,53.31 230.81,53.30 231.43,53.29 232.05,53.29 232.67,53.28 233.29,53.28 233.91,53.27 234.53,53.27 235.15,53.27 235.77,53.27 236.39,53.27 237.01,53.27 237.63,53.28 238.25,53.28 238.87,53.29 239.49,53.29 240.11,53.30 240.73,53.31 241.35,53.32 241.97,53.33 242.59,53.34 243.21,53.35 243.83,53.36 244.45,53.38 245.07,53.39 245.69,53.41 246.31,53.43 246.93,53.45 247.55,53.47 248.17,53.49 248.79,53.51 249.41,53.53 250.03,53.55 250.65,53.58 251.27,53.60 251.89,53.63 252.51,53.65 253.13,53.68 253.75,53.71 254.37,53.74 254.98,53.77 255.60,53.80 256.22,53.83 256.84,53.86 257.46,53.90 258.08,53.93 258.70,53.97 259.32,54.00 259.94,54.04 260.56,54.08 261.18,54.12 261.80,54.16 262.42,54.20 263.04,54.24 263.65,54.28 264.27,54.32 264.89,54.37 265.51,54.41 266.13,54.46 266.75,54.50 267.37,54.55 267.99,54.59 268.61,54.64 269.23,54.69 269.84,54.74 270.46,54.79 271.08,54.84 271.70,54.89 272.32,54.94 272.94,55.00 273.56,55.05 274.18,55.11 274.80,55.16 275.41,55.22 276.03,55.27 276.65,55.33 277.27,55.39 277.89,55.44 278.51,55.50 279.13,55.56 279.74,55.62 280.36,55.68 280.98,55.74 281.60,55.81 282.22,55.87 282.84,55.93 283.46,56.00 284.07,56.06 284.69,56.12 285.31,56.19 285.93,56.26 286.55,56.32 287.17,56.39 287.79,56.46 288.40,56.52 289.02,56.59 289.64,56.66 290.26,56.73 290.88,56.80 291.50,56.87 292.11,56.94 292.73,57.01 293.35,57.09 293.97,57.16 294.59,57.23 295.21,57.31 295.82,57.38 296.44,57.45 297.06,57.53 297.68,57.60 298.30,57.68 298.91,57.76 299.53,57.83 300.15,57.91 300.77,57.99 301.39,58.06 302.01,58.14 302.62,58.22 303.24,58.30 303.86,58.38 304.48,58.46 305.10,58.54 305.71,58.62 306.33,58.70 306.95,58.78 307.57,58.86 308.19,58.94 308.80,59.02 309.42,59.11 310.04,59.19 310.66,59.27 311.28,59.35 311.89,59.44 312.51,59.52 313.13,59.61 313.75,59.69 314.37,59.77 314.98,59.86 315.60,59.94 316.22,60.03 316.84,60.11 317.46,60.20 318.08,60.29 318.70,60.37 319.31,60.46 319.93,60.54 320.55,60.63 321.17,60.72 321.79,60.81 322.41,60.89 323.03,60.98 323.64,61.07 324.26,61.16 324.88,61.24 325.50,61.33 326.12,61.42 326.74,61.51 327.36,61.60 327.98,61.68 328.59,61.77 329.21,61.86 329.83,61.95 330.45,62.04 331.07,62.13 331.69,62.22 332.31,62.31 332.92,62.40 333.54,62.49 334.16,62.57 334.78,62.66 335.40,62.75 336.02,62.84 336.64,62.93 337.25,63.02 337.87,63.11 338.49,63.20 339.11,63.29 339.73,63.38 340.35,63.47 340.97,63.56 341.59,63.65 342.20,63.74 342.82,63.83 343.44,63.92 344.06,64.01 344.68,64.10 345.30,64.18 345.92,64.27 346.53,64.36 347.15,64.45 347.77,64.54 348.39,64.63 349.01,64.72 349.63,64.81 350.25,64.90 350.86,64.98 351.48,65.07" stroke="#ff3838" stroke-width="0.9"/>
</g>
<g fill="none" stroke-width="0.85" clip-path="url(#c)">
<path d="M63.45,279.00 L65.40,275.40 L67.35,279.00 Z" stroke="#30d8ff"/>
<path d="M67.65,266.80 L69.60,263.20 L71.55,266.80 Z" stroke="#3060ff"/>
<path d="M73.75,251.10 L75.70,247.50 L77.65,251.10 Z" stroke="#40e040"/>
<path d="M75.35,246.10 L77.30,242.50 L79.25,246.10 Z" stroke="#a040f0"/>
<path d="M77.95,239.10 L79.90,235.50 L81.85,239.10 Z" stroke="#30d8ff"/>
<path d="M82.85,223.80 L84.80,220.20 L86.75,223.80 Z" stroke="#e0f020"/>
<path d="M85.35,218.10 L87.30,214.50 L89.25,218.10 Z" stroke="#6050ff"/>
<path d="M87.45,211.60 L89.40,208.00 L91.35,211.60 Z" stroke="#40e040"/>
<path d="M92.95,196.20 L94.90,192.60 L96.85,196.20 Z" stroke="#ff9020"/>
<path d="M95.65,190.40 L97.60,186.80 L99.55,190.40 Z" stroke="#30a0ff"/>
<path d="M97.55,183.90 L99.50,180.30 L101.45,183.90 Z" stroke="#c8f030"/>
<path d="M101.45,172.90 L103.40,169.30 L105.35,172.90 Z" stroke="#a040f0"/>
<path d="M103.15,169.80 L105.10,166.20 L107.05,169.80 Z" stroke="#ff3030"/>
<path d="M105.15,163.40 L107.10,159.80 L109.05,163.40 Z" stroke="#40e040"/>
<path d="M107.25,157.30 L109.20,153.70 L111.15,157.30 Z" stroke="#ff9020"/>
<path d="M177.85,61.79 L179.80,58.19 L181.75,61.79 Z" stroke="#30d8ff"/>
<path d="M180.15,61.11 L182.10,57.51 L184.05,61.11 Z" stroke="#3060ff"/>
<path d="M187.95,59.23 L189.90,55.63 L191.85,59.23 Z" stroke="#ff3838"/>
<path d="M189.05,59.00 L191.00,55.40 L192.95,59.00 Z" stroke="#40e040"/>
<path d="M190.45,58.73 L192.40,55.13 L194.35,58.73 Z" stroke="#30d8ff"/>
<path d="M197.55,57.52 L199.50,53.92 L201.45,57.52 Z" stroke="#40e040"/>
<path d="M199.55,57.23 L201.50,53.63 L203.45,57.23 Z" stroke="#e0f020"/>
<path d="M202.05,56.90 L204.00,53.30 L205.95,56.90 Z" stroke="#a040f0"/>
<path d="M203.85,56.69 L205.80,53.09 L207.75,56.69 Z" stroke="#ff5080"/>
<path d="M207.05,56.35 L209.00,52.75 L210.95,56.35 Z" stroke="#ff9020"/>
<path d="M209.45,56.13 L211.40,52.53 L213.35,56.13 Z" stroke="#e0f020"/>
<path d="M212.25,55.90 L214.20,52.30 L216.15,55.90 Z" stroke="#3060ff"/>
<path d="M216.65,55.61 L218.60,52.01 L220.55,55.61 Z" stroke="#ff3838"/>
<path d="M218.95,55.50 L220.90,51.90 L222.85,55.50 Z" stroke="#ff9020"/>
<path d="M222.25,55.36 L224.20,51.76 L226.15,55.36 Z" stroke="#30d8ff"/>
<path d="M226.75,55.24 L228.70,51.64 L230.65,55.24 Z" stroke="#40e040"/>
<path d="M229.05,55.20 L231.00,51.60 L232.95,55.20 Z" stroke="#ff3838"/>
<path d="M232.35,55.17 L234.30,51.57 L236.25,55.17 Z" stroke="#30d8ff"/>
<path d="M235.15,55.17 L237.10,51.57 L239.05,55.17 Z" stroke="#ff3838"/>
<path d="M236.85,55.18 L238.80,51.58 L240.75,55.18 Z" stroke="#e0f020"/>
<path d="M239.65,55.22 L241.60,51.62 L243.55,55.22 Z" stroke="#a040f0"/>
<path d="M242.55,55.27 L244.50,51.67 L246.45,55.27 Z" stroke="#80e040"/>
<path d="M246.45,55.39 L248.40,51.79 L250.35,55.39 Z" stroke="#ff9020"/>
<path d="M251.45,55.58 L253.40,51.98 L255.35,55.58 Z" stroke="#ffb020"/>
<path d="M255.95,55.81 L257.90,52.21 L259.85,55.81 Z" stroke="#ff3838"/>
<path d="M261.25,56.13 L263.20,52.53 L265.15,56.13 Z" stroke="#ff5050"/>
<path d="M271.65,56.93 L273.60,53.33 L275.55,56.93 Z" stroke="#ff3838"/>
<path d="M272.45,57.00 L274.40,53.40 L276.35,57.00 Z" stroke="#3060ff"/>
<path d="M281.95,57.91 L283.90,54.31 L285.85,57.91 Z" stroke="#30a0ff"/>
<path d="M290.85,58.88 L292.80,55.28 L294.75,58.88 Z" stroke="#40e040"/>
<path d="M301.55,60.18 L303.50,56.58 L305.45,60.18 Z" stroke="#c8f030"/>
<path d="M303.05,60.38 L305.00,56.78 L306.95,60.38 Z" stroke="#a040f0"/>
<path d="M311.05,61.43 L313.00,57.83 L314.95,61.43 Z" stroke="#ff9020"/>
<path d="M312.05,61.57 L314.00,57.97 L315.95,61.57 Z" stroke="#3060ff"/>
<path d="M321.05,62.81 L323.00,59.21 L324.95,62.81 Z" stroke="#ff3838"/>
<path d="M322.05,62.96 L324.00,59.36 L325.95,62.96 Z" stroke="#30d8ff"/>
<path d="M332.05,64.38 L334.00,60.78 L335.95,64.38 Z" stroke="#ff3838"/>
<path d="M333.05,64.53 L335.00,60.93 L336.95,64.53 Z" stroke="#40e040"/>
<path d="M343.55,66.04 L345.50,62.44 L347.45,66.04 Z" stroke="#e0f020"/>
</g>
<polyline points="110.90,150.03 111.40,148.58 111.89,147.13 112.39,145.69 112.88,144.25 113.38,142.82 113.87,141.39 114.37,139.98 114.87,138.57 115.36,137.18 115.86,135.79 116.35,134.42 116.85,133.06 117.35,131.71 117.84,130.38 118.34,129.06 118.83,127.76 119.33,126.48 119.82,125.22 120.32,123.98 120.82,122.75 121.31,121.55 121.81,120.37 122.30,119.20 122.80,118.06 123.29,116.94 123.79,115.84 124.29,114.75 124.78,113.69 125.28,112.64 125.77,111.61 126.27,110.60 126.77,109.61 127.26,108.63 127.76,107.67 128.25,106.73 128.75,105.81 129.24,104.90 129.74,104.00 130.24,103.12 130.73,102.26 131.23,101.41 131.72,100.57 132.22,99.75 132.72,98.95 133.21,98.15 133.71,97.37 134.20,96.61 134.70,95.85 135.19,95.11 135.69,94.38 136.19,93.66 136.68,92.95 137.18,92.26 137.67,91.57 138.17,90.90 138.66,90.23 139.16,89.58 139.66,88.93 140.15,88.29 140.65,87.67 141.14,87.05 141.64,86.44 142.14,85.84 142.63,85.24 143.13,84.66 143.62,84.08 144.12,83.52 144.61,82.96 145.11,82.41 145.61,81.86 146.10,81.33 146.60,80.80 147.09,80.28 147.59,79.77 148.08,79.27 148.58,78.77 149.08,78.29 149.57,77.81 150.07,77.33 150.56,76.87 151.06,76.41 151.56,75.96 152.05,75.52 152.55,75.08 153.04,74.65 153.54,74.23 154.03,73.81 154.53,73.41 155.03,73.00 155.52,72.61 156.02,72.22 156.51,71.84 157.01,71.46 157.51,71.09 158.00,70.73 158.50,70.38 158.99,70.03 159.49,69.68 159.98,69.34 160.48,69.01 160.98,68.69 161.47,68.37 161.97,68.05 162.46,67.74 162.96,67.44 163.45,67.14 163.95,66.85 164.45,66.56 164.94,66.28 165.44,66.01 165.93,65.74 166.43,65.47 166.93,65.21 167.42,64.96 167.92,64.70 168.41,64.46 168.91,64.22 169.40,63.98 169.90,63.75" fill="none" stroke="#1a1a1a" stroke-width="0.8"/>
<g stroke="#000" stroke-width="1.1" stroke-linecap="round">
<path d="M107.80,150.30H114.00M108.30,147.70L113.50,152.90M108.30,152.90L113.50,147.70"/>
<path d="M117.60,122.70H123.80M118.10,120.10L123.30,125.30M118.10,125.30L123.30,120.10"/>
<path d="M127.40,102.70H133.60M127.90,100.10L133.10,105.30M127.90,105.30L133.10,100.10"/>
<path d="M137.15,88.10H143.35M137.65,85.50L142.85,90.70M137.65,90.70L142.85,85.50"/>
<path d="M146.90,77.50H153.10M147.40,74.90L152.60,80.10M147.40,80.10L152.60,74.90"/>
<path d="M157.00,69.30H163.20M157.50,66.70L162.70,71.90M157.50,71.90L162.70,66.70"/>
<path d="M166.80,63.75H173.00M167.30,61.15L172.50,66.35M167.30,66.35L172.50,61.15"/>
</g>
<g stroke="#000" stroke-width="1" fill="none">
<path d="M55.0,17.5H350.7M55.0,289.3H350.7" />
<path d="M55.0,17.5V289.8" stroke="#444" stroke-width="1.6"/>
<path d="M350.7,17.5V289.8" stroke="#222" stroke-width="1.3"/>
<path d="M61.38,289.3v-2.8M61.38,17.5v2.8M67.96,289.3v-2.8M67.96,17.5v2.8M74.54,289.3v-2.8M74.54,17.5v2.8M81.12,289.3v-2.8M81.12,17.5v2.8M87.70,289.3v-5.5M87.70,17.5v5.5M94.28,289.3v-2.8M94.28,17.5v2.8M100.86,289.3v-2.8M100.86,17.5v2.8M107.44,289.3v-2.8M107.44,17.5v2.8M114.02,289.3v-2.8M114.02,17.5v2.8M120.60,289.3v-2.8M120.60,17.5v2.8M127.18,289.3v-2.8M127.18,17.5v2.8M133.76,289.3v-2.8M133.76,17.5v2.8M140.34,289.3v-2.8M140.34,17.5v2.8M146.92,289.3v-2.8M146.92,17.5v2.8M153.50,289.3v-5.5M153.50,17.5v5.5M160.08,289.3v-2.8M160.08,17.5v2.8M166.66,289.3v-2.8M166.66,17.5v2.8M173.24,289.3v-2.8M173.24,17.5v2.8M179.82,289.3v-2.8M179.82,17.5v2.8M186.40,289.3v-2.8M186.40,17.5v2.8M192.98,289.3v-2.8M192.98,17.5v2.8M199.56,289.3v-2.8M199.56,17.5v2.8M206.14,289.3v-2.8M206.14,17.5v2.8M212.72,289.3v-2.8M212.72,17.5v2.8M219.30,289.3v-5.5M219.30,17.5v5.5M225.88,289.3v-2.8M225.88,17.5v2.8M232.46,289.3v-2.8M232.46,17.5v2.8M239.04,289.3v-2.8M239.04,17.5v2.8M245.62,289.3v-2.8M245.62,17.5v2.8M252.20,289.3v-2.8M252.20,17.5v2.8M258.78,289.3v-2.8M258.78,17.5v2.8M265.36,289.3v-2.8M265.36,17.5v2.8M271.94,289.3v-2.8M271.94,17.5v2.8M278.52,289.3v-2.8M278.52,17.5v2.8M285.10,289.3v-5.5M285.10,17.5v5.5M291.68,289.3v-2.8M291.68,17.5v2.8M298.26,289.3v-2.8M298.26,17.5v2.8M304.84,289.3v-2.8M304.84,17.5v2.8M311.42,289.3v-2.8M311.42,17.5v2.8M318.00,289.3v-2.8M318.00,17.5v2.8M324.58,289.3v-2.8M324.58,17.5v2.8M331.16,289.3v-2.8M331.16,17.5v2.8M337.74,289.3v-2.8M337.74,17.5v2.8M344.32,289.3v-2.8M344.32,17.5v2.8M55.0,259.10h2.8M350.7,259.10h-2.8M55.0,228.90h5.5M350.7,228.90h-5.5M55.0,198.70h2.8M350.7,198.70h-2.8M55.0,168.50h5.5M350.7,168.50h-5.5M55.0,138.30h2.8M350.7,138.30h-2.8M55.0,108.10h5.5M350.7,108.10h-5.5M55.0,77.90h2.8M350.7,77.90h-2.8M55.0,47.70h5.5M350.7,47.70h-5.5"/>
</g>
<g font-family="Liberation Sans, sans-serif" fill="#000">
<text x="137.92" y="10.50" font-size="14.5" textLength="16.59" lengthAdjust="spacingAndGlyphs">Fe</text>
<text x="163.02" y="10.50" font-size="14.5" textLength="29.11" lengthAdjust="spacingAndGlyphs">XVIII</text>
<text x="219.38" y="10.50" font-size="14.5" textLength="17.26" lengthAdjust="spacingAndGlyphs">Fe</text>
<text x="244.73" y="10.50" font-size="14.5" textLength="20.91" lengthAdjust="spacingAndGlyphs">XIX</text>
<rect x="201.3" y="5.8" width="8.4" height="1.1" fill="#000"/>
<text x="83.81" y="306.90" font-size="12" textLength="7.63" lengthAdjust="spacingAndGlyphs">6</text>
<text x="149.60" y="306.90" font-size="12" textLength="7.77" lengthAdjust="spacingAndGlyphs">7</text>
<text x="215.54" y="306.90" font-size="12" textLength="7.49" lengthAdjust="spacingAndGlyphs">8</text>
<text x="281.33" y="306.90" font-size="12" textLength="7.63" lengthAdjust="spacingAndGlyphs">9</text>
<path d="M344.05,300.35L346.60,298.40V306.90" fill="none" stroke="#000" stroke-width="1.15" stroke-linejoin="miter"/>
<text x="350.17" y="306.90" font-size="12" textLength="7.13" lengthAdjust="spacingAndGlyphs">0</text>
<text x="177.51" y="322.10" font-size="12.6" textLength="49.68" lengthAdjust="spacingAndGlyphs">log(T/K)</text>
<path d="M22.05,45.76L24.60,43.80V52.30" fill="none" stroke="#000" stroke-width="1.15" stroke-linejoin="miter"/>
<text x="28.57" y="52.30" font-size="12" textLength="7.13" lengthAdjust="spacingAndGlyphs">0</text>
<text x="35.71" y="47.00" font-size="8.4" textLength="5.98" lengthAdjust="spacingAndGlyphs">−</text>
<path d="M42.50,42.38L44.30,41.00V47.00" fill="none" stroke="#000" stroke-width="0.95" stroke-linejoin="miter"/>
<text x="45.43" y="47.00" font-size="8.4" textLength="5.70" lengthAdjust="spacingAndGlyphs">0</text>
<path d="M22.05,106.15L24.60,104.20V112.70" fill="none" stroke="#000" stroke-width="1.15" stroke-linejoin="miter"/>
<text x="28.57" y="112.70" font-size="12" textLength="7.13" lengthAdjust="spacingAndGlyphs">0</text>
<text x="35.71" y="107.40" font-size="8.4" textLength="5.98" lengthAdjust="spacingAndGlyphs">−</text>
<path d="M42.50,102.78L44.30,101.40V107.40" fill="none" stroke="#000" stroke-width="0.95" stroke-linejoin="miter"/>
<text x="45.29" y="107.40" font-size="8.4" textLength="5.99" lengthAdjust="spacingAndGlyphs">2</text>
<path d="M22.05,166.56L24.60,164.60V173.10" fill="none" stroke="#000" stroke-width="1.15" stroke-linejoin="miter"/>
<text x="28.57" y="173.10" font-size="12" textLength="7.13" lengthAdjust="spacingAndGlyphs">0</text>
<text x="35.71" y="167.80" font-size="8.4" textLength="5.98" lengthAdjust="spacingAndGlyphs">−</text>
<path d="M42.50,163.18L44.30,161.80V167.80" fill="none" stroke="#000" stroke-width="0.95" stroke-linejoin="miter"/>
<text x="45.57" y="167.80" font-size="8.4" textLength="5.43" lengthAdjust="spacingAndGlyphs">4</text>
<path d="M22.05,226.96L24.60,225.00V233.50" fill="none" stroke="#000" stroke-width="1.15" stroke-linejoin="miter"/>
<text x="28.57" y="233.50" font-size="12" textLength="7.13" lengthAdjust="spacingAndGlyphs">0</text>
<text x="35.71" y="228.20" font-size="8.4" textLength="5.98" lengthAdjust="spacingAndGlyphs">−</text>
<path d="M42.50,223.58L44.30,222.20V228.20" fill="none" stroke="#000" stroke-width="0.95" stroke-linejoin="miter"/>
<text x="45.29" y="228.20" font-size="8.4" textLength="5.99" lengthAdjust="spacingAndGlyphs">6</text>
<path d="M22.05,287.36L24.60,285.40V293.90" fill="none" stroke="#000" stroke-width="1.15" stroke-linejoin="miter"/>
<text x="28.57" y="293.90" font-size="12" textLength="7.13" lengthAdjust="spacingAndGlyphs">0</text>
<text x="35.71" y="288.60" font-size="8.4" textLength="5.98" lengthAdjust="spacingAndGlyphs">−</text>
<path d="M42.50,283.98L44.30,282.60V288.60" fill="none" stroke="#000" stroke-width="0.95" stroke-linejoin="miter"/>
<text x="45.42" y="288.60" font-size="8.4" textLength="5.84" lengthAdjust="spacingAndGlyphs">8</text>
<text x="211.98" y="229.40" font-size="10.8" textLength="12.94" lengthAdjust="spacingAndGlyphs">Fe</text>
<text x="230.42" y="229.40" font-size="10.8" textLength="21.50" lengthAdjust="spacingAndGlyphs">XVIII</text>
<text x="256.51" y="229.40" font-size="10.8" textLength="27.90" lengthAdjust="spacingAndGlyphs">initial</text>
<text x="290.46" y="229.40" font-size="10.8" textLength="23.39" lengthAdjust="spacingAndGlyphs">level</text>
<text x="319.29" y="229.40" font-size="10.8" textLength="7.74" lengthAdjust="spacingAndGlyphs">=</text>
<path d="M334.96,223.39L337.30,221.60V229.40" fill="none" stroke="#000" stroke-width="1.0" stroke-linejoin="miter"/>
<text x="211.98" y="245.30" font-size="10.8" textLength="12.94" lengthAdjust="spacingAndGlyphs">Fe</text>
<text x="230.12" y="245.30" font-size="10.8" textLength="16.17" lengthAdjust="spacingAndGlyphs">XIX</text>
<text x="252.39" y="245.30" font-size="10.8" textLength="22.32" lengthAdjust="spacingAndGlyphs">final</text>
<text x="279.86" y="245.30" font-size="10.8" textLength="23.39" lengthAdjust="spacingAndGlyphs">level</text>
<text x="309.29" y="245.30" font-size="10.8" textLength="7.74" lengthAdjust="spacingAndGlyphs">=</text>
<text x="322.91" y="245.30" font-size="10.8" textLength="7.09" lengthAdjust="spacingAndGlyphs">2</text>
<text transform="translate(9.80,302.50) rotate(-90)" font-size="10.5" textLength="63.60" lengthAdjust="spacing">Maxwellian</text>
<text transform="translate(9.80,235.30) rotate(-90)" font-size="10.5" textLength="29.85" lengthAdjust="spacing">Level</text>
<text transform="translate(9.80,199.30) rotate(-90)" font-size="10.5" textLength="52.34" lengthAdjust="spacing">Resolved</text>
<text transform="translate(9.80,142.60) rotate(-90)" font-size="10.5" textLength="57.17" lengthAdjust="spacing">Ionization</text>
<text transform="translate(9.80,79.60) rotate(-90)" font-size="10.5" textLength="28.04" lengthAdjust="spacing">Rate</text>
<text transform="translate(9.80,36.32) rotate(-90)" font-size="10.5" textLength="18.30" lengthAdjust="spacingAndGlyphs">cm</text>
<text transform="translate(5.00,17.06) rotate(-90)" font-size="7.6" textLength="7.58" lengthAdjust="spacingAndGlyphs">−3</text>
<path d="M0.4,37.3V39.4H12.6V37.3M0.4,8.4V6.5H12.6V8.4" fill="none" stroke="#000" stroke-width="1.1"/>
</g>
</svg>
</body></html>
